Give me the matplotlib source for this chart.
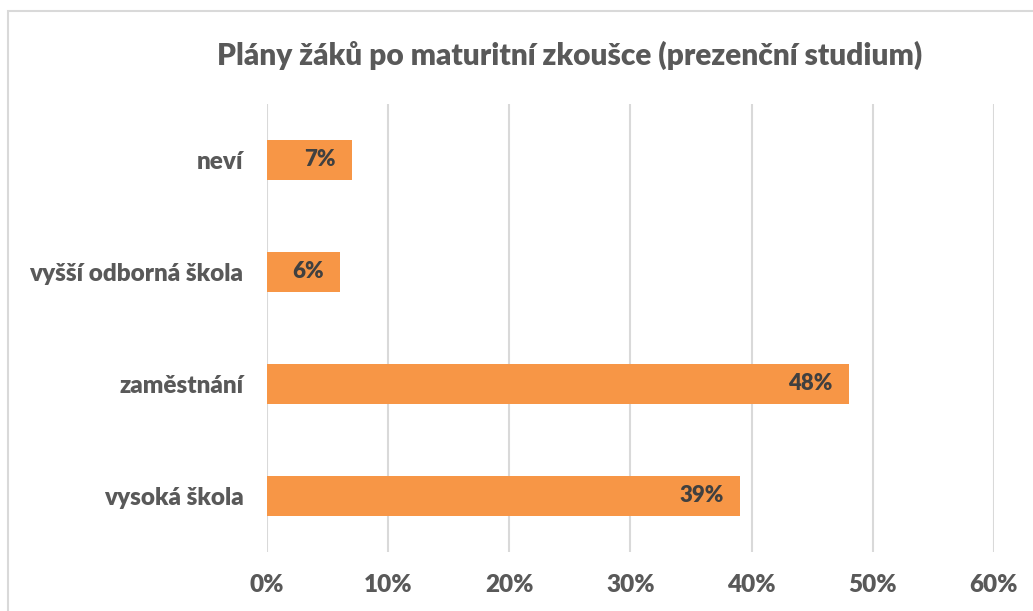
import matplotlib.pyplot as plt
from matplotlib.patches import Rectangle
from matplotlib.ticker import FuncFormatter

# data (bottom to top)
categories = ["vysoká škola", "zaměstnání", "vyšší odborná škola", "neví"]
values = [39, 48, 6, 7]
x_ticks = [0, 10, 20, 30, 40, 50, 60]

bar_color = "#F79646"
text_gray = "#595959"
label_dark = "#404040"
weight = "heavy"

plt.rcParams['font.family'] = ['Lato', 'DejaVu Sans']

fig = plt.figure(figsize=(10.33, 6.11), dpi=100)
ax = fig.add_axes([0.2585, 0.0966, 0.9622 - 0.2585, 0.8298 - 0.0966])

# chart border
fig.patches.append(Rectangle((8 / 1033, -0.05), 1.1, 1 - 11 / 611 + 0.05,
                             transform=fig.transFigure, fill=False,
                             edgecolor="#D9D9D9", linewidth=1.5))

y = list(range(len(categories)))
bars = ax.barh(y, values, height=0.35, color=bar_color, zorder=3)

for b, v in zip(bars, values):
    ax.annotate(f"{v}%", (b.get_width(), b.get_y() + b.get_height() / 2),
                xytext=(-16, 0), textcoords="offset pixels",
                ha="right", va="center", fontsize=16, fontweight=weight,
                color=label_dark, zorder=4)

ax.set_xlim(0, 60)
ax.set_ylim(-0.5, 3.5)
ax.set_xticks(x_ticks)
ax.xaxis.set_major_formatter(FuncFormatter(lambda v, p: f"{v:.0f}%"))
ax.set_yticks(y)
ax.set_yticklabels(categories)
ax.tick_params(axis="both", length=0, labelsize=17.5, labelcolor=text_gray)
ax.tick_params(axis="x", pad=16)
ax.tick_params(axis="y", pad=17)
for lbl in ax.get_xticklabels() + ax.get_yticklabels():
    lbl.set_fontweight(weight)

ax.grid(axis="x", color="#D9D9D9", linewidth=1.5, zorder=0)
for s in ax.spines.values():
    s.set_visible(False)

fig.text(570 / 1033, 1 - 55 / 611, "Plány žáků po maturitní zkoušce (prezenční studium)",
         ha="center", va="center", fontsize=21.5, fontweight=weight, color=text_gray)

fig.savefig("out.png", dpi=100)
